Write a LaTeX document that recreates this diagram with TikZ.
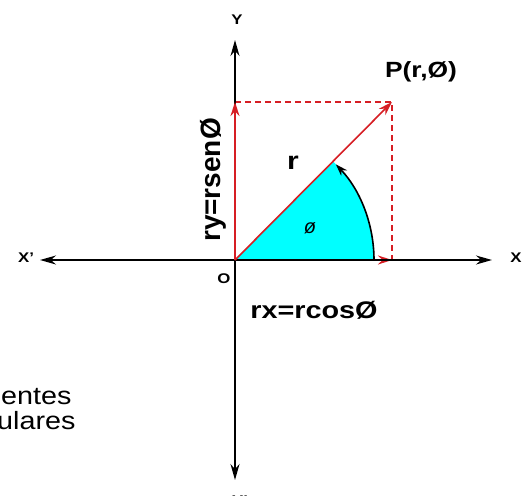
\documentclass[tikz,border=0pt]{standalone}
\usepackage{fontspec}
\setmainfont{Liberation Sans}
\usetikzlibrary{arrows.meta}
\definecolor{vred}{RGB}{214,30,36}
\definecolor{vcyan}{RGB}{0,255,255}
\tikzset{
  axis/.style={draw=black,line width=1.6pt,-{Stealth[length=16pt,width=9pt]}},
  redarrow/.style={draw=vred,line width=1.6pt,-{Stealth[length=14pt,width=9pt]}},
  reddash/.style={draw=vred,line width=1.4pt,dash pattern=on 6pt off 4pt},
  lbl/.style={font=\bfseries\fontsize{#1}{#1}\selectfont,inner sep=0pt,xscale=1.2},
  lbl/.default=10,
  body/.style={font=\fontsize{25}{25}\selectfont,inner sep=0pt,anchor=base west,xscale=1.15}
}
\begin{document}
\begin{tikzpicture}[x=1pt,y=-1pt]
\useasboundingbox (0,0) rectangle (523,496);
\coordinate (O) at (235,260);
\coordinate (P) at (392,102);
\coordinate (Py) at (235,102);
\coordinate (Px) at (392,260);
\coordinate (Xl) at (40,260);
\coordinate (Xr) at (492,260);
\coordinate (Yt) at (235,40);
\coordinate (Yb) at (235,480);
\coordinate (A0) at (374,260);
% sector
\fill[vcyan] (O) -- (A0) arc[start angle=0,end angle=-45,radius=139] -- cycle;
% dashed box
\draw[reddash] (Py) -- (P) -- (Px);
% red components
\draw[redarrow] (O) -- (Px);
% axes
\draw[axis] (O) -- (Xl);
\draw[axis] (O) -- (Xr);
\draw[axis] (O) -- (Yt);
\draw[axis] (O) -- (Yb);
% red vectors
\draw[redarrow] (O) -- (Py);
\draw[redarrow] (O) -- (P);
% angle arc
\draw[line width=1.6pt,-{Stealth[length=12pt,width=8pt]}] (A0) arc[start angle=0,end angle=-43.5,radius=139];
% labels
\node[lbl=14] (ly) at (237,20) {Y};
\node[lbl=14] (lxl) at (26,258) {X'};
\node[lbl=14] (lxr) at (516,258) {X};
\node[lbl=14] (lyb) at (240,501) {Y'};
\node[lbl=14] (lo) at (224,279) {O};
\node[lbl=25] (lr) at (293,163) {r};
\node[lbl=22] (lp) at (421,72) {P(r,Ø)};
\node[lbl=24] (lrx) at (314,310) {rx=rcosØ};
\node[font=\bfseries\fontsize{28}{28}\selectfont,inner sep=0pt,rotate=90] (lry) at (213,180) {ry=rsenØ};
\node[font=\fontsize{20}{20}\selectfont\itshape,inner sep=0pt] (lphi) at (310,228) {ø};
\node[body] (t1) at (1,404) {entes};
\node[body] (t2) at (-3,429) {ulares};
\end{tikzpicture}
\end{document}
